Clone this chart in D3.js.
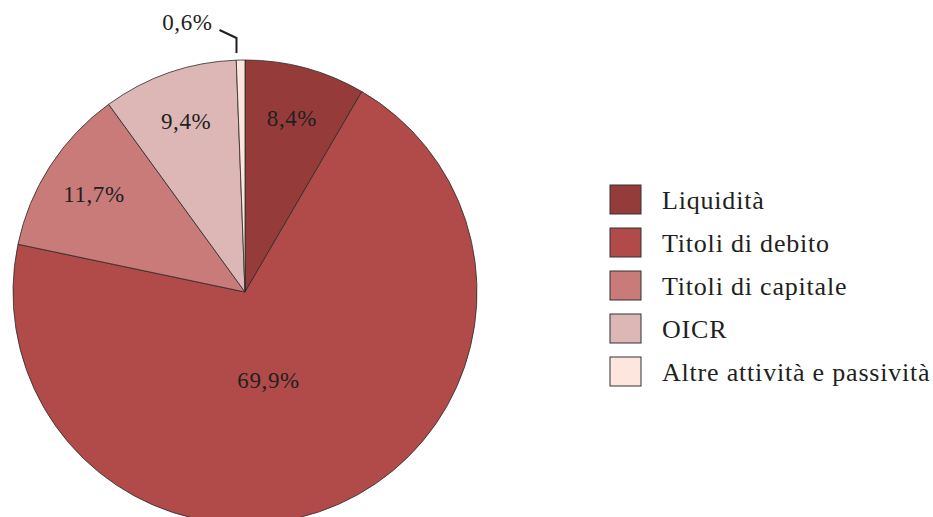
<!DOCTYPE html>
<html>
<head>
<meta charset="utf-8">
<script src="https://cdn.jsdelivr.net/npm/d3@7"></script>
<style>
  body { margin: 0; background: #fff; }
  svg text { font-family: "Liberation Serif", "DejaVu Serif", serif; fill: #231f20; }
</style>
</head>
<body>
<svg id="chart"></svg>
<script>
// categories and values (percent)
const categories = ["Liquidità", "Titoli di debito", "Titoli di capitale", "OICR", "Altre attività e passività"];
const values = [8.4, 69.9, 11.7, 9.4, 0.6];
const labels = ["8,4%", "69,9%", "11,7%", "9,4%", "0,6%"];
const colors = ["#953c3b", "#b14b49", "#c97b7a", "#ddb6b6", "#fce6dd"];

const width = 933, height = 517;
const svg = d3.select("#chart").attr("width", width).attr("height", height);

const cx = 245, cy = 292, R = 232;
const g = svg.append("g").attr("transform", `translate(${cx},${cy})`);

const pie = d3.pie().sort(null).value(d => d.v);
const arcs = pie(values.map((v, i) => ({v: v, i: i})));
const arc = d3.arc().innerRadius(0).outerRadius(R);

g.selectAll("path.slice")
  .data(arcs)
  .enter()
  .append("path")
  .attr("class", "slice")
  .attr("d", arc)
  .attr("fill", d => colors[d.data.i])
  .attr("stroke", "#2a2a2a")
  .attr("stroke-width", 0.8);

// labels: big slice nearer the centre, small ones further out
const labelArcBig = d3.arc().innerRadius(95).outerRadius(95);
const labelArcSmall = d3.arc().innerRadius(180).outerRadius(180);

arcs.forEach(d => {
  if (d.data.v < 2) return;
  const a = d.data.v > 50 ? labelArcBig : labelArcSmall;
  let [x, y] = a.centroid(d);
  if (d.data.v > 50) { x = x - 15; y = y + 2; }
  g.append("text")
    .attr("x", x).attr("y", y)
    .attr("text-anchor", "middle")
    .attr("dominant-baseline", "central")
    .style("font-size", "23px")
    .style("letter-spacing", "0.6px")
    .text(labels[d.data.i]);
});

// small slice: leader line + label outside
arcs.filter(d => d.data.v < 2).forEach(d => {
  const mid = (d.startAngle + d.endAngle) / 2;
  const x0 = Math.sin(mid) * (R + 7) - 4;
  const y0 = -Math.cos(mid) * (R + 7);
  const y1 = -(R + 22);
  const pts = [[x0, y0], [x0, y1], [x0 - 17, y1 - 8]];
  g.append("path")
    .attr("d", d3.line()(pts))
    .attr("fill", "none")
    .attr("stroke", "#231f20")
    .attr("stroke-width", 2);
  g.append("text")
    .attr("x", x0 - 24).attr("y", y1 - 8)
    .attr("text-anchor", "end")
    .style("font-size", "23px")
    .style("letter-spacing", "0.6px")
    .text(labels[d.data.i]);
});

// legend
const legend = svg.append("g").attr("transform", "translate(610,185)");
const ly = d3.scalePoint().domain(categories).range([0, 172]);
const items = legend.selectAll("g.item")
  .data(categories)
  .enter()
  .append("g")
  .attr("class", "item")
  .attr("transform", d => `translate(0,${ly(d)})`);
items.append("rect")
  .attr("width", 31).attr("height", 29)
  .attr("fill", (d, i) => colors[i])
  .attr("stroke", "#333")
  .attr("stroke-width", 1);
items.append("text")
  .attr("x", 52).attr("y", 15)
  .attr("dominant-baseline", "central")
  .style("font-size", "26px")
  .style("letter-spacing", "0.8px")
  .text(d => d);
</script>
</body>
</html>
